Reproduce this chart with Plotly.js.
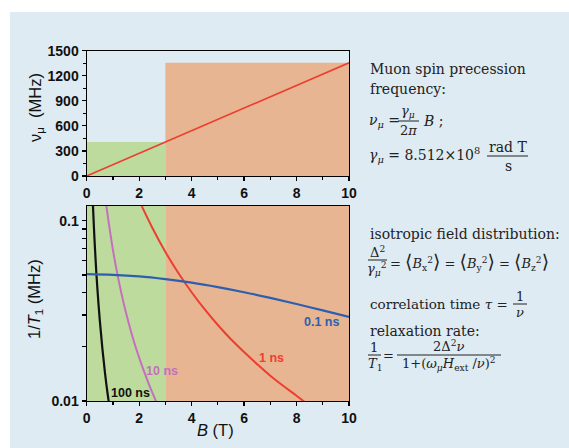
<!DOCTYPE html>
<html>
<head>
<meta charset="utf-8">
<script src="https://cdn.plot.ly/plotly-3.0.1.min.js"></script>
<style>html,body{margin:0;padding:0;background:#fff;}#chart{width:569px;height:448px;}</style>
</head>
<body>
<div id="chart"></div>
<script>
// ---------- data ----------
// regions of field B (T): low field (green) 0-3 T, high field (orange) 3-10 T
const regionB = [0, 3, 10];
// precession frequency (MHz) at region edges
const regionNu = [406, 1355];
// precession line
const lineB = [0, 10];
const lineNu = [0, 1355];

// 1/T1 (MHz) curves
const b100 = [0.23, 0.25, 0.30, 0.35, 0.40, 0.50, 0.60, 0.70, 0.80, 0.85];
const r100 = [0.131, 0.111, 0.0773, 0.0568, 0.0435, 0.0279, 0.0194, 0.0142, 0.0109, 0.0097];

const b10 = [0.74, 0.80, 1.0, 1.2, 1.4, 1.6, 1.8, 2.0, 2.2, 2.4, 2.6, 2.7];
const r10 = [0.124, 0.107, 0.0688, 0.0480, 0.0353, 0.0271, 0.0214, 0.0174, 0.0144, 0.0121, 0.0103, 0.0095];

const b1 = [2.1, 2.5, 3.0, 3.5, 4.0, 4.5, 5.0, 5.5, 6.0, 6.5, 7.0, 7.5, 8.0, 8.3];
const r1 = [0.1204, 0.0914, 0.0671, 0.0511, 0.0401, 0.0322, 0.0264, 0.0220, 0.0187, 0.0160, 0.0138, 0.0121, 0.0107, 0.0099];

const b01 = [0, 1, 2, 3, 4, 5, 6, 7, 8, 9, 10];
const r01 = [0.0505, 0.0501, 0.0491, 0.0474, 0.0453, 0.0428, 0.0401, 0.0373, 0.0345, 0.0318, 0.0293];

const curveNames = ['100 ns', '10 ns', '1 ns', '0.1 ns'];
const topTicks = [0, 300, 600, 900, 1200, 1500];
const xTicks = [0, 2, 4, 6, 8, 10];
const logTicks = [0.01, 0.02, 0.03, 0.04, 0.05, 0.06, 0.07, 0.08, 0.09, 0.1];
const logTickText = ['0.01', '', '', '', '', '', '', '', '', '0.1'];

// ---------- helpers ----------
const W = 569, H = 448;
const px = x => x / W;
const py = y => 1 - y / H;

const green = '#bddb9c';
const orange = '#e7b592';
const bg = '#deebf3';
const cRed = '#ee3e2f', cBlue = '#2e5faf', cPurple = '#c66fc1', cBlack = '#111111';

function rect(x0, x1, y0, y1, color, xa, ya) {
  return {x: [x0, x1, x1, x0, x0], y: [y0, y0, y1, y1, y0], xaxis: xa, yaxis: ya,
          mode: 'lines', fill: 'toself', fillcolor: color, line: {width: 0, color: color},
          hoverinfo: 'skip', showlegend: false};
}

const traces = [
  rect(regionB[0], regionB[1], 0, regionNu[0], green, 'x', 'y'),
  rect(regionB[1], regionB[2], 0, regionNu[1], orange, 'x', 'y'),
  {x: lineB, y: lineNu, xaxis: 'x', yaxis: 'y', mode: 'lines', line: {color: cRed, width: 1.6}, showlegend: false},
  rect(regionB[0], regionB[1], 0.005, 0.5, green, 'x2', 'y2'),
  rect(regionB[1], regionB[2], 0.005, 0.5, orange, 'x2', 'y2'),
  {x: b100, y: r100, xaxis: 'x2', yaxis: 'y2', mode: 'lines', line: {color: cBlack, width: 2.2, shape: 'spline'}, name: curveNames[0], showlegend: false},
  {x: b10, y: r10, xaxis: 'x2', yaxis: 'y2', mode: 'lines', line: {color: cPurple, width: 2, shape: 'spline'}, name: curveNames[1], showlegend: false},
  {x: b1, y: r1, xaxis: 'x2', yaxis: 'y2', mode: 'lines', line: {color: cRed, width: 2, shape: 'spline'}, name: curveNames[2], showlegend: false},
  {x: b01, y: r01, xaxis: 'x2', yaxis: 'y2', mode: 'lines', line: {color: cBlue, width: 2.2, shape: 'spline'}, name: curveNames[3], showlegend: false}
];

const tickFont = {family: 'Liberation Sans, Arial, sans-serif', size: 14, color: '#111', weight: 'bold'};
const axisCommon = {showgrid: false, zeroline: false, showline: true, linecolor: '#000', linewidth: 1.2,
  mirror: true, ticks: 'outside', ticklen: 4, tickwidth: 1.2, tickcolor: '#000', tickfont: tickFont, fixedrange: true};

const xDom = [px(86.7), px(349)];

const serif = 'DejaVu Serif, serif';
const fs = 14;
function txt(text, x, y, anchor, size, color) {
  return {text: text, x: px(x), y: py(y), xref: 'paper', yref: 'paper', xanchor: anchor || 'left', yanchor: 'middle',
          showarrow: false, font: {family: serif, size: size || fs, color: color || '#222'}};
}
function bar(x0, x1, y) {
  return {type: 'line', xref: 'paper', yref: 'paper', x0: px(x0), x1: px(x1), y0: py(y), y1: py(y), line: {color: '#222', width: 1}};
}
const lb = '<span style="font-size:19px">⟨</span>';
const rb = '<span style="font-size:19px">⟩</span>';

const sansT = 'Liberation Sans, Arial, sans-serif';
const annotations = [
  // axis titles
  {text: 'ν<sub>μ</sub>  (MHz)', x: px(36), y: py(108), xref: 'paper', yref: 'paper', textangle: -90, showarrow: false,
   xanchor: 'center', yanchor: 'middle', font: {family: sansT, size: 16.5, color: '#111'}},
  {text: '1/<i>T</i><sub>1</sub> (MHz)', x: px(35), y: py(299), xref: 'paper', yref: 'paper', textangle: -90, showarrow: false,
   xanchor: 'center', yanchor: 'middle', font: {family: sansT, size: 16.5, color: '#111'}},
  {text: '<i>B</i> (T)', x: px(215), y: py(430), xref: 'paper', yref: 'paper', showarrow: false,
   xanchor: 'center', yanchor: 'middle', font: {family: sansT, size: 16.5, color: '#111'}},
  // curve labels
  {text: curveNames[3], x: 8.96, y: Math.log10(0.0274), xref: 'x2', yref: 'y2', showarrow: false, xanchor: 'center', yanchor: 'middle',
   font: {family: sansT, size: 12.5, color: cBlue, weight: 'bold'}},
  {text: curveNames[2], x: 7.05, y: Math.log10(0.01726), xref: 'x2', yref: 'y2', showarrow: false, xanchor: 'center', yanchor: 'middle',
   font: {family: sansT, size: 12.5, color: cRed, weight: 'bold'}},
  {text: curveNames[1], x: 2.86, y: Math.log10(0.01466), xref: 'x2', yref: 'y2', showarrow: false, xanchor: 'center', yanchor: 'middle',
   font: {family: sansT, size: 12.5, color: cPurple, weight: 'bold'}},
  {text: curveNames[0], x: 1.66, y: Math.log10(0.0111), xref: 'x2', yref: 'y2', showarrow: false, xanchor: 'center', yanchor: 'middle',
   font: {family: sansT, size: 12.5, color: cBlack, weight: 'bold'}},
  // right text block
  txt('Muon spin precession', 368, 69),
  txt('frequency:', 368, 89),
  txt('<i>ν</i><sub><i>μ</i></sub> =', 367, 121),
  txt('<i>γ</i><sub><i>μ</i></sub>', 408, 111, 'center', 13),
  txt('2<i>π</i>', 408, 130, 'center', 13),
  txt('<i>B</i> ;', 421, 121),
  txt('<i>γ</i><sub><i>μ</i></sub> = 8.512×10<sup>8</sup>', 367, 155),
  txt('rad T', 508, 147, 'center'),
  txt('s', 508, 166, 'center'),
  txt('isotropic field distribution:', 368, 234),
  txt('Δ<sup>2</sup>', 377, 252, 'center', 13),
  txt('<i>γ</i><sub><i>μ</i></sub><sup>2</sup>', 377, 269, 'center', 13),
  txt('= ' + lb + '<i>B</i><sub>x</sub><sup>2</sup>' + rb + ' = ' + lb + '<i>B</i><sub>y</sub><sup>2</sup>' + rb + ' = ' + lb + '<i>B</i><sub>z</sub><sup>2</sup>' + rb, 388, 261, 'left', 13),
  txt('correlation time <i>τ</i> =', 368, 304, 'left', 13.5),
  txt('1', 520, 296, 'center', 13),
  txt('<i>ν</i>', 520, 312, 'center', 13),
  txt('relaxation rate:', 368, 331),
  txt('1', 374, 347, 'center', 13),
  txt('<i>T</i><sub>1</sub>', 375, 364, 'center', 13),
  txt('=', 388, 355, 'center', 13),
  txt('2Δ<sup>2</sup><i>ν</i>', 448, 346, 'center', 13),
  txt('1+(<i>ω</i><sub><i>μ</i></sub><i>H</i><sub>ext</sub> /<i>ν</i>)<sup>2</sup>', 449, 364, 'center', 13)
];

const shapes = [
  {type: 'rect', xref: 'paper', yref: 'paper', x0: px(10), x1: 1, y0: 0, y1: py(12), fillcolor: bg, line: {width: 0}, layer: 'below'},
  bar(398, 419, 121),
  bar(487, 528, 156),
  bar(368, 387, 260),
  bar(513, 527, 304),
  bar(368, 381, 355),
  bar(397, 501, 355)
];

const layout = {
  width: W, height: H,
  margin: {l: 0, r: 0, t: 0, b: 0},
  paper_bgcolor: '#ffffff',
  plot_bgcolor: 'rgba(0,0,0,0)',
  showlegend: false,
  xaxis: Object.assign({}, axisCommon, {domain: xDom, anchor: 'y', range: [0, 10], tickvals: xTicks,
    minor: {dtick: 1, ticklen: 2.5, tickcolor: '#000', ticks: 'outside'}}),
  yaxis: Object.assign({}, axisCommon, {domain: [py(176), py(50.7)], anchor: 'x', range: [0, 1500], tickvals: topTicks,
    minor: {dtick: 150, ticklen: 2.5, tickcolor: '#000', ticks: 'outside'}}),
  xaxis2: Object.assign({}, axisCommon, {domain: xDom, anchor: 'y2', range: [0, 10], tickvals: xTicks,
    minor: {dtick: 1, ticklen: 2.5, tickcolor: '#000', ticks: 'outside'}}),
  yaxis2: Object.assign({}, axisCommon, {domain: [py(401), py(205.7)], anchor: 'x2', type: 'log', range: [-2, -0.917],
    tickvals: logTicks, ticktext: logTickText}),
  annotations: annotations,
  shapes: shapes
};

Plotly.newPlot('chart', traces, layout, {displayModeBar: false, staticPlot: true});
</script>
</body>
</html>
